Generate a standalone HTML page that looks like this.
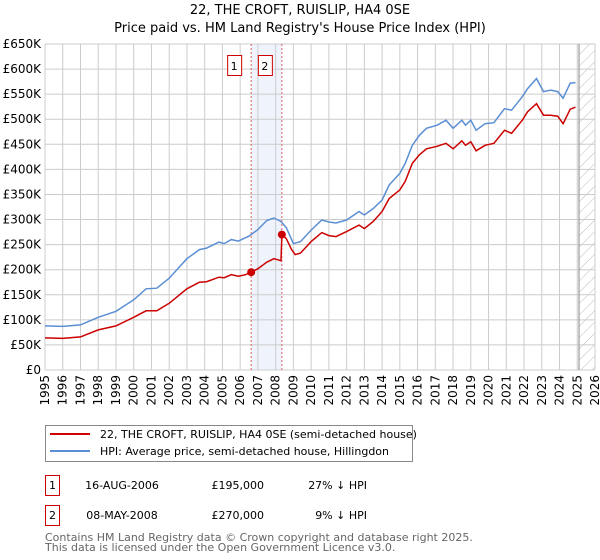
<!DOCTYPE html>
<html><head><meta charset="utf-8"><style>
body{margin:0;background:#fff;font-family:"DejaVu Sans","Liberation Sans",sans-serif;}
svg{display:block}
</style></head><body>
<svg id="c" width="600" height="560" font-family="DejaVu Sans, Liberation Sans, sans-serif">
<text x="300" y="14" text-anchor="middle" font-size="13">22, THE CROFT, RUISLIP, HA4 0SE</text>
<text x="300" y="32" text-anchor="middle" font-size="13">Price paid vs. HM Land Registry's House Price Index (HPI)</text>
<defs><pattern id="hatch" width="8" height="8" patternUnits="userSpaceOnUse" patternTransform="rotate(45)"><line x1="0" y1="0" x2="0" y2="8" stroke="#bbb" stroke-width="1"/></pattern></defs>
<g id="plot"></g>
<g>
<rect x="45.5" y="425.5" width="367" height="36" fill="#fff" stroke="#888"/>
<line x1="50" y1="434" x2="90" y2="434" stroke="#cc0000" stroke-width="2"/>
<text x="100" y="438" font-size="11">22, THE CROFT, RUISLIP, HA4 0SE (semi-detached house)</text>
<line x1="50" y1="451" x2="90" y2="451" stroke="#5b8fd4" stroke-width="2"/>
<text x="100" y="455" font-size="11">HPI: Average price, semi-detached house, Hillingdon</text>
</g>
<g font-size="11">
<rect x="45.5" y="475.5" width="14" height="20" fill="#fff" stroke="#cc0000"/>
<text x="52.5" y="489" text-anchor="middle">1</text>
<text x="122" y="489" text-anchor="middle">16-AUG-2006</text>
<text x="264" y="489" text-anchor="end">£195,000</text>
<text x="367" y="489" text-anchor="end">27% ↓ HPI</text>
<rect x="45.5" y="505.5" width="14" height="20" fill="#fff" stroke="#cc0000"/>
<text x="52.5" y="519" text-anchor="middle">2</text>
<text x="122" y="519" text-anchor="middle">08-MAY-2008</text>
<text x="264" y="519" text-anchor="end">£270,000</text>
<text x="367" y="519" text-anchor="end">9% ↓ HPI</text>
</g>
<text x="45" y="541" font-size="11" fill="#666">Contains HM Land Registry data © Crown copyright and database right 2025.</text>
<text x="45" y="551" font-size="11" fill="#666">This data is licensed under the Open Government Licence v3.0.</text>
</svg>
<script>
const yTicks=[0,50000,100000,150000,200000,250000,300000,350000,400000,450000,500000,550000,600000,650000];
const yTickLabels=["£0","£50K","£100K","£150K","£200K","£250K","£300K","£350K","£400K","£450K","£500K","£550K","£600K","£650K"];
const xYears=[1995,1996,1997,1998,1999,2000,2001,2002,2003,2004,2005,2006,2007,2008,2009,2010,2011,2012,2013,2014,2015,2016,2017,2018,2019,2020,2021,2022,2023,2024,2025,2026];
const hpiT=[1995,1996,1997,1998,1999,2000,2000.7,2001.3,2002,2003,2003.7,2004.1,2004.8,2005.1,2005.5,2005.9,2006.5,2007,2007.5,2007.9,2008.3,2008.6,2009.0,2009.4,2010,2010.6,2011,2011.4,2012,2012.7,2013,2013.5,2014,2014.4,2015,2015.3,2015.7,2016.1,2016.5,2017.1,2017.6,2018,2018.5,2018.7,2019,2019.3,2019.8,2020.3,2020.9,2021.3,2021.9,2022.2,2022.7,2023.1,2023.5,2023.9,2024.2,2024.6,2024.9];
const hpiV=[88,87,90,105,117,140,162,163,183,222,240,243,255,252,260,257,267,280,298,303,296,284,252,256,279,299,295,293,299,316,309,322,339,369,392,412,448,468,482,488,498,482,498,488,498,478,491,493,521,518,545,561,581,555,558,555,542,572,573];
const propT=[1995,1996,1997,1998,1999,2000,2000.7,2001.3,2002,2003,2003.7,2004.1,2004.8,2005.1,2005.5,2005.9,2006.3,2006.62,2007,2007.5,2007.9,2008.3,2008.35,2008.6,2008.9,2009.1,2009.4,2010,2010.6,2011,2011.4,2012,2012.7,2013,2013.5,2014,2014.4,2015,2015.3,2015.7,2016.1,2016.5,2017.1,2017.6,2018,2018.5,2018.7,2019,2019.3,2019.8,2020.3,2020.9,2021.3,2021.9,2022.2,2022.7,2023.1,2023.5,2023.9,2024.2,2024.6,2024.9];
const propV=[64,63,66,80,88,105,118,118,133,162,175,176,185,184,190,187,190,195,202,215,222,218,270,262,240,230,233,256,274,268,266,276,289,282,296,316,342,359,376,412,429,441,446,452,441,457,448,455,437,448,452,478,472,498,515,531,508,508,506,491,520,524];
const saleT=[2006.62,2008.35];
const saleV=[195000,270000];
const saleLabels=["1","2"];

const X0=45,X1=595,Y0=370,Y1=44;
const xs=t=>X0+(t-1995)/(2026-1995)*(X1-X0);
const ys=v=>Y0-v/650000*(Y0-Y1);
const NS="http://www.w3.org/2000/svg";
const g=document.getElementById('plot');
function mk(tag,attrs,parent){const e=document.createElementNS(NS,tag);for(const k in attrs)e.setAttribute(k,attrs[k]);(parent||g).appendChild(e);return e;}

// shaded band
let band=mk('rect',{x:xs(saleT[0]),y:Y1,width:xs(saleT[1])-xs(saleT[0]),height:Y0-Y1,fill:'#eef3fc'});


// hatch
let hat=mk('rect',{x:xs(2025.1),y:Y1,width:X1-xs(2025.1),height:Y0-Y1,fill:'url(#hatch)'});


// grid
yTicks.forEach((v,i)=>{
  let l=mk('line',{x1:X0,x2:X1,y1:ys(v),y2:ys(v),stroke:'#ccc','stroke-width':1});
  
  
  let t=mk('text',{x:X0-4,y:ys(v)+4,'text-anchor':'end','font-size':12});
  t.textContent=yTickLabels[i];
  
  
});
xYears.forEach(yr=>{
  let l=mk('line',{x1:xs(yr),x2:xs(yr),y1:Y1,y2:Y0,stroke:'#ccc','stroke-width':1});
  
  
  let t=mk('text',{x:0,y:0,'font-size':12,'text-anchor':'end',transform:`translate(${xs(yr)+4},${Y0+5}) rotate(-90)`});
  t.textContent=yr;
  
  
});
let vl=mk('line',{x1:xs(2025.1),x2:xs(2025.1),y1:Y1,y2:Y0,stroke:'#888','stroke-width':1});


// sale dashed lines + labels
saleT.forEach((t,i)=>{
  let l=mk('line',{x1:xs(t),x2:xs(t),y1:Y1,y2:Y0,stroke:'#e06060','stroke-width':1,'stroke-dasharray':'2,2'});
  
  
  let r=mk('rect',{x:xs(t)-24+0.5,y:55.5,width:14,height:20,fill:'#fff',stroke:'#cc0000'});
  
  
  let tx=mk('text',{x:xs(t)-17,y:70,'text-anchor':'middle','font-size':11});
  tx.textContent=saleLabels[i];
  
  
});
// lines
let hp=mk('path',{d:hpiT.map((t,i)=>(i?'L':'M')+xs(t).toFixed(1)+','+ys(hpiV[i]*1000).toFixed(1)).join(''),fill:'none',stroke:'#5b8fd4','stroke-width':1.5});


let pp=mk('path',{d:propT.map((t,i)=>(i?'L':'M')+xs(t).toFixed(1)+','+ys(propV[i]*1000).toFixed(1)).join(''),fill:'none',stroke:'#cc0000','stroke-width':1.5});


saleT.forEach((t,i)=>{
  let c=mk('circle',{cx:xs(t),cy:ys(saleV[i]),r:4,fill:'#cc0000'});
  
  
});
</script>
</body></html>
